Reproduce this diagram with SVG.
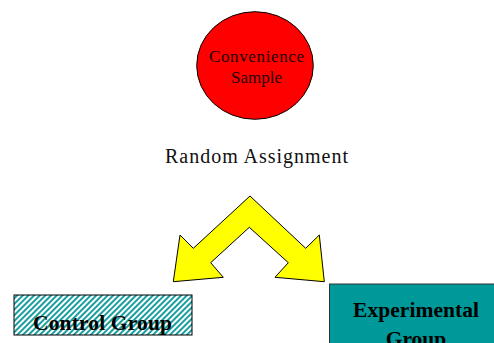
<svg xmlns="http://www.w3.org/2000/svg" width="494" height="343" viewBox="0 0 494 343">
<style>
.serif{font-family:"Liberation Serif","Times New Roman",serif;}
.lbl{font-size:17px;fill:#200;text-anchor:middle;}
.bold{font-weight:bold;font-size:21.5px;fill:#000;text-anchor:middle;}
</style>
<defs>
<pattern id="hatch" patternUnits="userSpaceOnUse" width="4" height="4" patternTransform="rotate(45)">
<rect width="4" height="4" fill="#fff"/>
<rect width="2" height="4" fill="#1a9e9e"/>
</pattern>
</defs>
<rect width="494" height="343" fill="#fff"/>
<g id="sample">
<ellipse cx="255" cy="65.5" rx="58.3" ry="53.8" fill="#ff0000" stroke="#000" stroke-width="1"/>
<text class="serif lbl" x="256.5" y="61.7" textLength="95" lengthAdjust="spacing">Convenience</text>
<text class="serif lbl" x="256.5" y="82.7">Sample</text>
</g>
<g id="assignment">
<text class="serif" x="256.5" y="163.3" font-size="20" fill="#111" text-anchor="middle" textLength="183" lengthAdjust="spacing">Random Assignment</text>
</g>
<g id="connectors">
<path d="M250,196 L193.3,248.3 L180,235 L173.3,281.7 L223.3,277.3 L210.7,262.7 L249.3,227.3 L288.3,262.7 L275,277.3 L324.3,281.7 L319.3,235 L305.7,248.3 Z" fill="#ffff00" stroke="#000" stroke-width="1" stroke-linejoin="miter"/>
</g>
<g id="control">
<rect x="14" y="295" width="178" height="40" fill="url(#hatch)" stroke="#000" stroke-width="1"/>
<text class="serif bold" x="102.5" y="330" textLength="139" lengthAdjust="spacing">Control Group</text>
</g>
<g id="experimental">
<rect x="329.5" y="284" width="175" height="80" fill="#009999" stroke="#333" stroke-width="1"/>
<text class="serif bold" x="416" y="316.7" textLength="126" lengthAdjust="spacing">Experimental</text>
<text class="serif bold" x="416" y="346">Group</text>
</g>
</svg>
